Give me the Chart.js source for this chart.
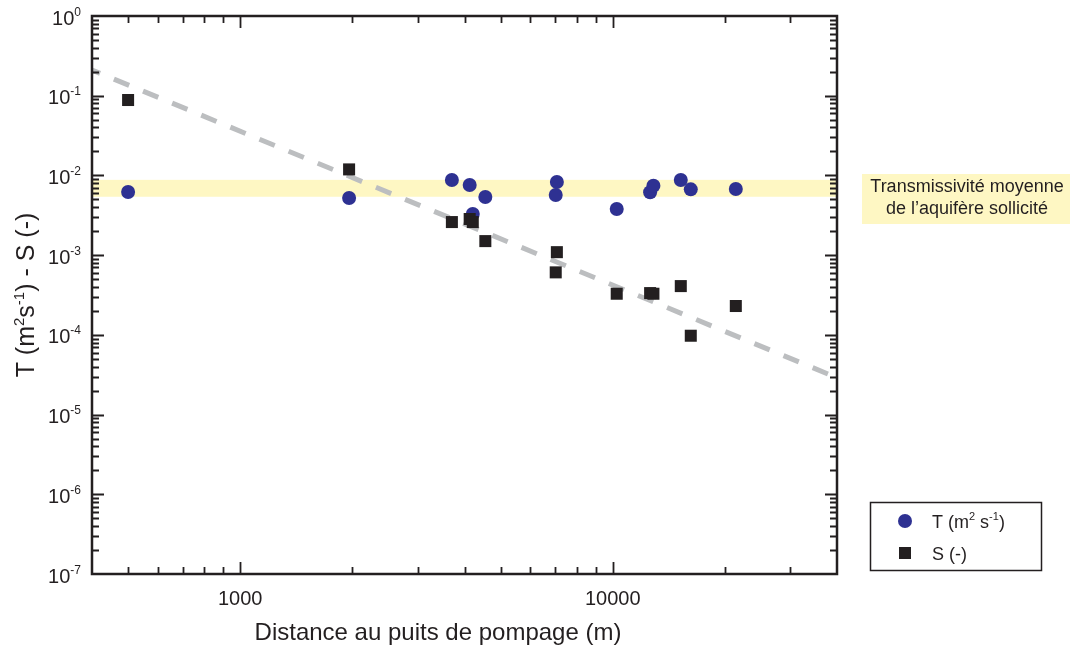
<!DOCTYPE html>
<html>
<head>
<meta charset="utf-8">
<style>html,body{margin:0;padding:0;background:#fff}canvas{display:block}</style>
<script src="https://cdn.jsdelivr.net/npm/chart.js@4/dist/chart.umd.min.js"></script>
</head>
<body>
<canvas id="c" width="1075" height="648"></canvas>
<script>
// ---- data ----
const distances      = [500, 1960, 3700, 4130, 4210, 4550, 7030, 7080, 10250, 12600, 12860, 15230, 16200, 21400];
const transmissivity = [6.2e-3, 5.2e-3, 8.75e-3, 7.6e-3, 3.28e-3, 5.36e-3, 5.68e-3, 8.26e-3, 3.79e-3, 6.14e-3, 7.43e-3, 8.75e-3, 6.69e-3, 6.75e-3];
const storativity    = [8.83e-2, 1.19e-2, 2.60e-3, 2.84e-3, 2.60e-3, 1.50e-3, 6.08e-4, 1.09e-3, 3.28e-4, 3.34e-4, 3.28e-4, 4.09e-4, 9.75e-5, 2.30e-4];
const trendX = [400, 40000];
const trendY = [0.21, 2.9e-5];
const bandRange = [5.4e-3, 8.8e-3];
const xTickValues = [1000, 10000];
const xTickLabels = ['1000', '10000'];
const yTickValues = [1, 1e-1, 1e-2, 1e-3, 1e-4, 1e-5, 1e-6, 1e-7];
const yTickExponents = ['0', '-1', '-2', '-3', '-4', '-5', '-6', '-7'];
const bandLabel = ['Transmissivité moyenne', 'de l\u2019aquifère sollicité'];
const xTitle = 'Distance au puits de pompage (m)';

const FONT = '"Liberation Sans", Arial, Helvetica, sans-serif';
const INK = '#231f20';
const BLUE = '#2e3192';
const BAND = '#fef7c3';

function drawRich(ctx, parts, x, y, align) {
  let total = 0;
  parts.forEach(p => { ctx.font = p[1] + 'px ' + FONT; total += ctx.measureText(p[0]).width; });
  let cx = align === 'right' ? x - total : (align === 'center' ? x - total / 2 : x);
  ctx.textAlign = 'left';
  ctx.textBaseline = 'alphabetic';
  parts.forEach(p => {
    ctx.font = p[1] + 'px ' + FONT;
    ctx.fillText(p[0], cx, y - (p[2] || 0));
    cx += ctx.measureText(p[0]).width;
  });
}

const decor = {
  id: 'decor',
  beforeDatasetsDraw(chart) {
    const {ctx, chartArea: {left, right}, scales: {y}} = chart;
    ctx.save();
    const yHi = y.getPixelForValue(bandRange[1]);
    const yLo = y.getPixelForValue(bandRange[0]);
    ctx.fillStyle = BAND;
    ctx.fillRect(left, yHi, right - left, yLo - yHi);
    ctx.restore();
  },
  afterDatasetsDraw(chart) {
    const {ctx, chartArea: {left, right, top, bottom}, scales: {x, y}} = chart;
    ctx.save();
    ctx.strokeStyle = INK;
    ctx.fillStyle = INK;
    ctx.lineWidth = 1.8;
    ctx.beginPath();
    for (let n = 2; n <= 4; n++) {
      for (let k = 1; k <= 9; k++) {
        const v = Number((k * Math.pow(10, n)).toPrecision(6));
        if (v <= x.min || v >= x.max) continue;
        const px = Math.round(x.getPixelForValue(v)) + 0.5;
        const len = k === 1 ? 12 : 7;
        ctx.moveTo(px, bottom); ctx.lineTo(px, bottom - len);
        ctx.moveTo(px, top); ctx.lineTo(px, top + len);
      }
    }
    for (let n = -7; n <= 0; n++) {
      for (let k = 1; k <= 9; k++) {
        const v = Number((k * Math.pow(10, n)).toPrecision(6));
        if (v <= y.min || v >= y.max) continue;
        const py = Math.round(y.getPixelForValue(v)) + 0.5;
        const len = k === 1 ? 12 : 7;
        ctx.moveTo(left, py); ctx.lineTo(left + len, py);
        ctx.moveTo(right, py); ctx.lineTo(right - len, py);
      }
    }
    ctx.stroke();
    ctx.lineWidth = 2.5;
    ctx.strokeRect(left, top, right - left, bottom - top);

    ctx.font = '20px ' + FONT;
    ctx.textAlign = 'center';
    ctx.textBaseline = 'alphabetic';
    xTickValues.forEach((v, i) => {
      ctx.fillText(xTickLabels[i], x.getPixelForValue(v), 605);
    });
    yTickValues.forEach((v, i) => {
      const py = y.getPixelForValue(v);
      drawRich(ctx, [['10', 20, 0], [yTickExponents[i], 12, 9]], 81, py + 8.5, 'right');
    });
    ctx.font = '24px ' + FONT;
    ctx.textAlign = 'center';
    ctx.fillText(xTitle, 438, 640);
    ctx.save();
    ctx.translate(34, (top + bottom) / 2);
    ctx.rotate(-Math.PI / 2);
    drawRich(ctx, [['T (m', 25, 0], ['2', 15, 10], ['s', 25, 0], ['-1', 15, 10], [') - S (-)', 25, 0]], 0, 0, 'center');
    ctx.restore();

    ctx.fillStyle = BAND;
    ctx.fillRect(862, 174, 208, 50);
    ctx.fillStyle = INK;
    ctx.font = '18px ' + FONT;
    ctx.textAlign = 'center';
    ctx.fillText(bandLabel[0], 967, 191.5);
    ctx.fillText(bandLabel[1], 967, 213.5);

    ctx.lineWidth = 1.5;
    ctx.strokeStyle = INK;
    ctx.strokeRect(870.5, 502.5, 171, 68);
    ctx.fillStyle = BLUE;
    ctx.beginPath(); ctx.arc(905, 521, 7, 0, Math.PI * 2); ctx.fill();
    ctx.fillStyle = INK;
    ctx.fillRect(899, 547, 12, 12);
    drawRich(ctx, [['T (m', 18, 0], ['2', 11, 8], [' s', 18, 0], ['-1', 11, 8], [')', 18, 0]], 932, 527.5, 'left');
    drawRich(ctx, [['S (-)', 18, 0]], 932, 559.5, 'left');
    ctx.restore();
  }
};

const tPoints = distances.map((d, i) => ({x: d, y: transmissivity[i]}));
const sPoints = distances.map((d, i) => ({x: d, y: storativity[i]}));
const trendPoints = trendX.map((d, i) => ({x: d, y: trendY[i]}));

new Chart(document.getElementById('c'), {
  type: 'scatter',
  data: {
    datasets: [
      {label: 'S (-)', data: sPoints, order: 0, pointStyle: 'rect', pointRadius: 8.5, pointBorderWidth: 0,
       backgroundColor: INK, borderColor: INK, borderWidth: 0},
      {label: 'T (m2 s-1)', data: tPoints, order: 1, pointStyle: 'circle', pointRadius: 7, pointBorderWidth: 0,
       backgroundColor: BLUE, borderColor: BLUE, borderWidth: 0},
      {label: 'trend', data: trendPoints, order: 2, showLine: true, pointRadius: 0, borderColor: '#bcbec0',
       borderWidth: 5, borderDash: [16.5, 15], borderDashOffset: 7.8, borderCapStyle: 'butt', fill: false}
    ]
  },
  options: {
    responsive: false,
    animation: false,
    events: [],
    layout: {padding: {left: 92, top: 16, right: 238, bottom: 74}},
    plugins: {legend: {display: false}, tooltip: {enabled: false}},
    scales: {
      x: {type: 'logarithmic', min: 400, max: 40000, display: false},
      y: {type: 'logarithmic', min: 1e-7, max: 1, display: false}
    }
  },
  plugins: [decor]
});
</script>
</body>
</html>
